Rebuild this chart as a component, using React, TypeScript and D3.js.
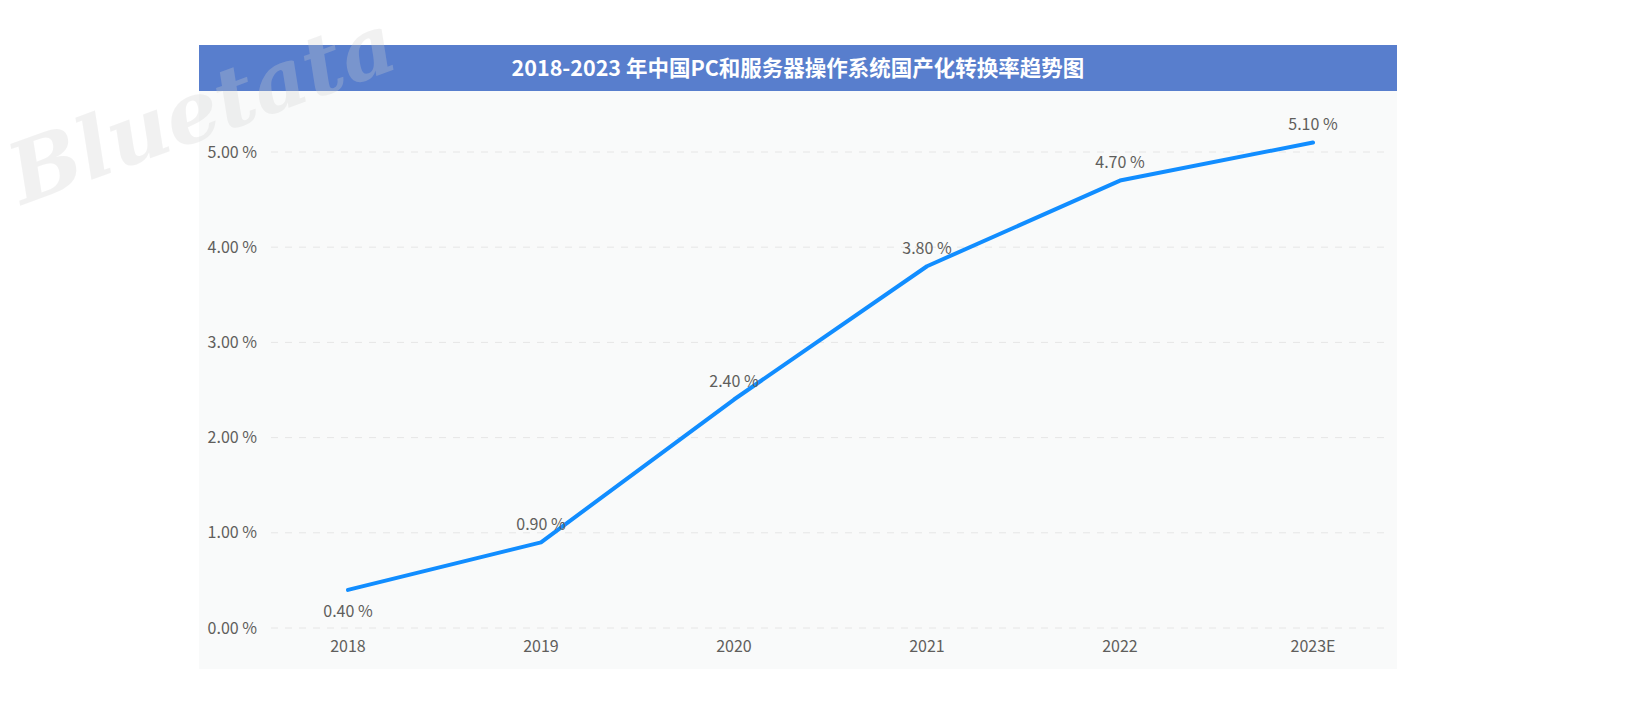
import React, { useEffect, useRef } from 'react';
import * as d3 from 'd3';

const years = ['2018', '2019', '2020', '2021', '2022', '2023E'];
const rates = [0.4, 0.9, 2.4, 3.8, 4.7, 5.1];
const yTicks = [0, 1, 2, 3, 4, 5];
const title = '2018-2023 年中国PC和服务器操作系统国产化转换率趋势图';

const W = 1635;
const H = 718;

const App: React.FC = () => {
  const svgRef = useRef<SVGSVGElement>(null);

  useEffect(() => {
    if (!svgRef.current) return;
    const svg = d3.select(svgRef.current);
    svg.selectAll('*').remove();

    const font = '"Noto Sans CJK SC", "Noto Sans", sans-serif';
    const textColor = '#605e5c';

    // panel
    const panel = { left: 199, right: 1397, top: 45, titleBottom: 91, bottom: 669 };

    svg.append('rect')
      .attr('x', panel.left).attr('y', panel.titleBottom)
      .attr('width', panel.right - panel.left).attr('height', panel.bottom - panel.titleBottom)
      .attr('fill', '#f9fafa');

    svg.append('rect')
      .attr('x', panel.left).attr('y', panel.top)
      .attr('width', panel.right - panel.left).attr('height', panel.titleBottom - panel.top)
      .attr('fill', '#587ecd');

    svg.append('text')
      .attr('x', (panel.left + panel.right) / 2)
      .attr('y', (panel.top + panel.titleBottom) / 2)
      .attr('dy', '0.35em')
      .attr('text-anchor', 'middle')
      .attr('font-family', font)
      .attr('font-size', 21.5)
      .attr('font-weight', 'bold')
      .attr('fill', '#ffffff')
      .text(title);

    const x = d3.scalePoint<string>().domain(years).range([348, 1313]);
    const y = d3.scaleLinear().domain([0, 5]).range([628, 152]);

    // gridlines
    svg.append('g')
      .selectAll('line')
      .data(yTicks)
      .join('line')
        .attr('x1', 271).attr('x2', 1387)
        .attr('y1', d => y(d)).attr('y2', d => y(d))
        .attr('stroke', '#e6e6e6')
        .attr('stroke-width', 1)
        .attr('stroke-dasharray', '7,7');

    // y labels
    svg.append('g')
      .selectAll('text')
      .data(yTicks)
      .join('text')
        .attr('x', 257)
        .attr('y', d => y(d))
        .attr('dy', '0.35em')
        .attr('text-anchor', 'end')
        .attr('font-family', font)
        .attr('font-size', 16)
        .attr('fill', textColor)
        .text(d => d3.format('.2f')(d) + ' %');

    // x labels
    svg.append('g')
      .selectAll('text')
      .data(years)
      .join('text')
        .attr('x', d => x(d) as number)
        .attr('y', 646)
        .attr('dy', '0.35em')
        .attr('text-anchor', 'middle')
        .attr('font-family', font)
        .attr('font-size', 16)
        .attr('fill', textColor)
        .text(d => d);

    const data = years.map((yr, i) => ({ yr, v: rates[i] }));

    const line = d3.line<{ yr: string; v: number }>()
      .x(d => x(d.yr) as number)
      .y(d => y(d.v));

    svg.append('path')
      .datum(data)
      .attr('d', line)
      .attr('fill', 'none')
      .attr('stroke', '#118dff')
      .attr('stroke-width', 4)
      .attr('stroke-linecap', 'round')
      .attr('stroke-linejoin', 'round');

    // data labels
    svg.append('g')
      .selectAll('text')
      .data(data)
      .join('text')
        .attr('x', d => x(d.yr) as number)
        .attr('y', (d, i) => y(d.v) + (i === 0 ? 21 : -18))
        .attr('dy', '0.35em')
        .attr('text-anchor', 'middle')
        .attr('font-family', font)
        .attr('font-size', 16)
        .attr('fill', textColor)
        .text(d => d3.format('.2f')(d.v) + ' %');

    // watermark
    svg.append('text')
      .attr('transform', 'translate(22,205) rotate(-20)')
      .attr('font-family', '"DejaVu Serif", serif')
      .attr('font-style', 'italic')
      .attr('font-weight', 'bold')
      .attr('font-size', 84)
      .attr('fill', '#d0d0d0')
      .attr('opacity', 0.28)
      .text('Bluetata');
  }, []);

  return (
    <div style={{ position: 'absolute', left: 0, top: 0 }}>
      <svg ref={svgRef} width={W} height={H} style={{ display: 'block', background: '#ffffff' }} />
    </div>
  );
};

export default App;
